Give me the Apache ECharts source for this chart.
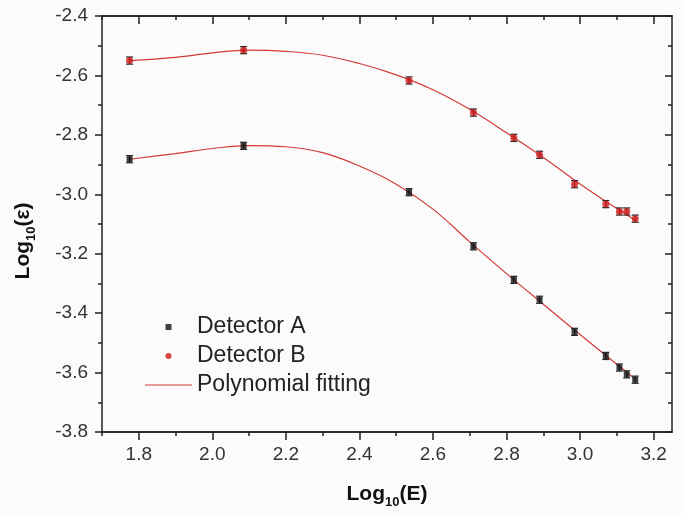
<!DOCTYPE html>
<html>
<head>
<meta charset="utf-8">
<script src="https://cdn.jsdelivr.net/npm/echarts@6/dist/echarts.min.js"></script>
<style>
html,body{margin:0;padding:0;background:#fbfbfb;}
#chart{width:683px;height:514px;}
</style>
</head>
<body>
<div id="chart"></div>
<script>
// Data
const xVals = [1.775, 2.085, 2.535, 2.71, 2.82, 2.89, 2.985, 3.07, 3.107, 3.127, 3.15];
const detectorA = [-2.882, -2.837, -2.993, -3.175, -3.288, -3.355, -3.463, -3.544, -3.583, -3.606, -3.624];
const detectorB = [-2.55, -2.515, -2.617, -2.725, -2.81, -2.867, -2.966, -3.033, -3.058, -3.058, -3.082];
const errA = [0.012, 0.012, 0.012, 0.012, 0.012, 0.012, 0.012, 0.012, 0.012, 0.012, 0.012];
const errB = [0.012, 0.012, 0.012, 0.012, 0.012, 0.012, 0.012, 0.012, 0.012, 0.012, 0.012];
// Polynomial fitting curves
const fitX = [1.775, 1.9, 2.0, 2.1, 2.2, 2.3, 2.4, 2.5, 2.6, 2.7, 2.8, 2.9, 3.0, 3.1, 3.15];
const fitA = [-2.882, -2.863, -2.846, -2.836, -2.84, -2.86, -2.905, -2.966, -3.05, -3.16, -3.267, -3.37, -3.472, -3.572, -3.622];
const fitB = [-2.55, -2.539, -2.524, -2.515, -2.519, -2.532, -2.56, -2.598, -2.648, -2.714, -2.793, -2.876, -2.965, -3.048, -3.087];
const xMajorTicks = [1.8, 2.0, 2.2, 2.4, 2.6, 2.8, 3.0, 3.2];
const xMinorTicks = [1.7, 1.9, 2.1, 2.3, 2.5, 2.7, 2.9, 3.1];
const xMin = 1.7, xMax = 3.25, yMin = -3.8, yMax = -2.4, yStep = 0.2;

const FONT = "'Liberation Sans', Arial, sans-serif";
const AX = '#222';

function pairs(xs, ys) { return xs.map((x, i) => [x, ys[i]]); }
function triples(xs, ys, es) { return xs.map((x, i) => [x, ys[i], es[i]]); }

function errRender(params, api) {
  const x = api.value(0), y = api.value(1), e = api.value(2);
  const top = api.coord([x, y + e]);
  const bot = api.coord([x, y - e]);
  const hw = 3.5;
  const st = { stroke: '#222', lineWidth: 1.2 };
  return {
    type: 'group',
    children: [
      { type: 'line', shape: { x1: top[0], y1: top[1], x2: bot[0], y2: bot[1] }, style: st },
      { type: 'line', shape: { x1: top[0] - hw, y1: top[1], x2: top[0] + hw, y2: top[1] }, style: st },
      { type: 'line', shape: { x1: bot[0] - hw, y1: bot[1], x2: bot[0] + hw, y2: bot[1] }, style: st }
    ]
  };
}

function xAxisDef(pos, ticks, len, inside, labels) {
  return {
    type: 'value', position: pos, min: xMin, max: xMax,
    axisLine: { show: true, onZero: false, lineStyle: { color: AX, width: 1.5 } },
    axisTick: { show: true, customValues: ticks, inside: inside, length: len, lineStyle: { color: AX, width: 1.5 } },
    axisLabel: labels ? { show: true, customValues: ticks, margin: 13, color: '#333', fontSize: 19, fontFamily: FONT,
      formatter: v => v.toFixed(1) } : { show: false },
    splitLine: { show: false }
  };
}

const richTitle = {
  b: { fontSize: 21, fontWeight: 'bold', fontFamily: FONT, color: '#111', lineHeight: 30 },
  s: { fontSize: 13, fontWeight: 'bold', fontFamily: FONT, color: '#111', lineHeight: 14, verticalAlign: 'bottom' }
};

const chart = echarts.init(document.getElementById('chart'));
chart.setOption({
  backgroundColor: '#fbfbfb',
  animation: false,
  grid: { left: 102, right: 11, top: 16, bottom: 79, containLabel: false },
  legend: {
    orient: 'vertical', left: 140, top: 310, itemGap: 5,
    itemWidth: 47, itemHeight: 6, symbolKeepAspect: true,
    textStyle: { fontSize: 23, fontFamily: FONT, color: '#222', lineHeight: 24 },
    data: [
      { name: 'Detector A', icon: 'path://M0,0h1v1h-1z' },
      { name: 'Detector B', icon: 'path://M1,0.5A0.5,0.5,0,1,1,0,0.5A0.5,0.5,0,1,1,1,0.5z' },
      { name: 'Polynomial fitting', icon: 'path://M0,0h40v1h-40z' }
    ]
  },
  xAxis: [
    Object.assign(xAxisDef('bottom', xMajorTicks, 8, false, true), {
      name: '{b|Log}{s|10}{b|(E)}', nameLocation: 'middle', nameGap: 47,
      nameTextStyle: { rich: richTitle }
    }),
    xAxisDef('bottom', xMinorTicks, 4, false, false),
    xAxisDef('top', xMajorTicks, 8, true, false),
    xAxisDef('top', xMinorTicks, 4, true, false)
  ],
  yAxis: [
    {
      type: 'value', position: 'left', min: yMin, max: yMax, interval: yStep,
      name: '{b|Log}{s|10}{b|(ε)}', nameLocation: 'middle', nameGap: 64, nameRotate: 90,
      nameTextStyle: { rich: richTitle, padding: [0, 34, 0, 0] },
      axisLine: { show: true, onZero: false, lineStyle: { color: AX, width: 1.5 } },
      axisTick: { show: true, length: 7, lineStyle: { color: AX, width: 1.5 } },
      minorTick: { show: true, splitNumber: 2, length: 4, lineStyle: { color: AX, width: 1.5 } },
      axisLabel: { margin: 14, color: '#333', fontSize: 19, fontFamily: FONT, formatter: v => v.toFixed(1) },
      splitLine: { show: false }
    },
    {
      type: 'value', position: 'right', min: yMin, max: yMax, interval: yStep,
      axisLine: { show: true, onZero: false, lineStyle: { color: AX, width: 1.5 } },
      axisTick: { show: true, inside: true, length: 7, lineStyle: { color: AX, width: 1.5 } },
      minorTick: { show: true, splitNumber: 2, length: 4, lineStyle: { color: AX, width: 1.5 } },
      axisLabel: { show: false },
      splitLine: { show: false }
    }
  ],
  series: [
    { name: 'Polynomial fitting', type: 'line', data: pairs(fitX, fitB), smooth: 0.4, symbol: 'none', showSymbol: false,
      color: '#d23a3a', lineStyle: { color: '#d23a3a', width: 1.2 }, z: 2 },
    { name: 'Polynomial fitting', type: 'line', data: pairs(fitX, fitA), smooth: 0.4, symbol: 'none', showSymbol: false,
      color: '#d23a3a', lineStyle: { color: '#d23a3a', width: 1.2 }, z: 2 },
    { type: 'custom', renderItem: errRender, data: triples(xVals, detectorA, errA), z: 3 },
    { type: 'custom', renderItem: errRender, data: triples(xVals, detectorB, errB), z: 3 },
    { name: 'Detector A', type: 'scatter', data: pairs(xVals, detectorA), symbol: 'rect', symbolSize: 6,
      itemStyle: { color: '#111' }, z: 4 },
    { name: 'Detector B', type: 'scatter', data: pairs(xVals, detectorB), symbol: 'circle', symbolSize: 7,
      itemStyle: { color: '#d01818' }, z: 4 }
  ]
});
</script>
</body>
</html>
